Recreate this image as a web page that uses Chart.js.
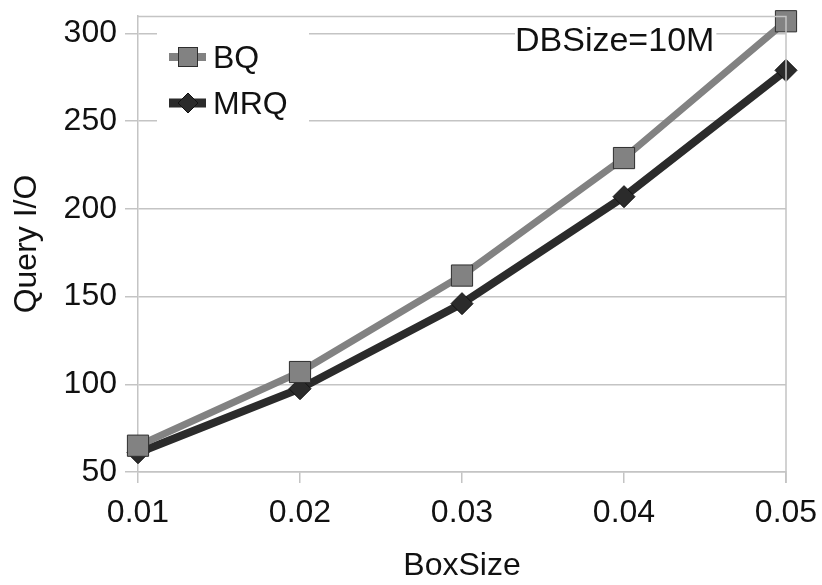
<!DOCTYPE html>
<html>
<head>
<meta charset="utf-8">
<script src="https://cdn.jsdelivr.net/npm/chart.js@4"></script>
<style>
  html, body { margin: 0; padding: 0; background: #fff; }
  #wrap { width: 822px; height: 585px; }
</style>
</head>
<body>
<div id="wrap"><canvas id="c" width="822" height="585"></canvas></div>
<script>
// ── Data ─────────────────────────────────────────────────────────────────────
const boxSizes = [0.01, 0.02, 0.03, 0.04, 0.05];
const bqIO     = [65, 107, 162, 229, 307];
const mrqIO    = [61, 97.5, 146, 207, 279];
const yTicks   = [50, 100, 150, 200, 250, 300];
const note     = 'DBSize=10M';

const FONT = '"Liberation Sans", Arial, sans-serif';
const GRID = '#c4c4c4';

// legend + note boxes drawn inside the plot, frame on top/right
const overlay = {
  id: 'overlay',
  afterDatasetsDraw(chart) {
    const ctx = chart.ctx;
    const a = chart.chartArea;
    ctx.save();
    // frame
    ctx.strokeStyle = GRID;
    ctx.lineWidth = 1.5;
    ctx.beginPath();
    ctx.moveTo(a.left, a.top + 0.5);
    ctx.lineTo(a.right, a.top + 0.5);
    ctx.lineTo(a.right, a.bottom + 11);
    ctx.stroke();

    // legend box
    ctx.fillStyle = '#fff';
    ctx.fillRect(157, 22, 152, 104);
    const ds = chart.data.datasets;
    const rows = [57, 103];
    ds.forEach((d, i) => {
      const y = rows[i];
      ctx.strokeStyle = d.borderColor;
      ctx.lineWidth = d.borderWidth + 1;
      ctx.beginPath();
      ctx.moveTo(169, y);
      ctx.lineTo(206, y);
      ctx.stroke();
      ctx.fillStyle = d.pointBackgroundColor;
      ctx.strokeStyle = d.pointBorderColor;
      ctx.lineWidth = 1;
      if (d.pointStyle === 'rect') {
        ctx.fillRect(178.5, y - 9.5, 19, 19);
        ctx.strokeRect(178.5, y - 9.5, 19, 19);
      } else {
        ctx.beginPath();
        ctx.moveTo(188, y - 10);
        ctx.lineTo(198, y);
        ctx.lineTo(188, y + 10);
        ctx.lineTo(178, y);
        ctx.closePath();
        ctx.fill();
        ctx.stroke();
      }
      ctx.fillStyle = '#111';
      ctx.font = '32px ' + FONT;
      ctx.textBaseline = 'middle';
      ctx.textAlign = 'left';
      ctx.fillText(d.label, 213, y + 2);
    });

    // DBSize note
    ctx.font = '34px ' + FONT;
    const w = ctx.measureText(note).width;
    ctx.fillStyle = '#fff';
    ctx.fillRect(515, 20, w + 2, 42);
    ctx.fillStyle = '#111';
    ctx.textBaseline = 'middle';
    ctx.fillText(note, 515, 42);
    ctx.restore();
  }
};

const noPad = s => { s.paddingTop = 0; s.paddingBottom = 0; s.paddingLeft = 0; s.paddingRight = 0; };

new Chart(document.getElementById('c'), {
  type: 'line',
  data: {
    labels: boxSizes,
    datasets: [
      {
        label: 'BQ',
        data: boxSizes.map((x, i) => ({ x, y: bqIO[i] })),
        borderColor: '#828282',
        borderWidth: 7,
        pointStyle: 'rect',
        pointRadius: 15,
        pointBackgroundColor: '#828282',
        pointBorderColor: '#2e2e2e',
        pointBorderWidth: 1,
        tension: 0
      },
      {
        label: 'MRQ',
        data: boxSizes.map((x, i) => ({ x, y: mrqIO[i] })),
        borderColor: '#2b2b2b',
        borderWidth: 8,
        pointStyle: 'rectRot',
        pointRadius: 11,
        pointBackgroundColor: '#2b2b2b',
        pointBorderColor: '#111',
        pointBorderWidth: 1,
        tension: 0
      }
    ]
  },
  options: {
    responsive: false,
    animation: false,
    clip: false,
    layout: { padding: { left: 0, top: 13, right: 36, bottom: 0 } },
    plugins: { legend: { display: false }, tooltip: { enabled: false } },
    scales: {
      x: {
        type: 'linear',
        min: 0.01,
        max: 0.05,
        afterBuildTicks: s => { s.ticks = boxSizes.map(v => ({ value: v })); },
        afterFit: s => { s.height = 113; noPad(s); },
        grid: { drawOnChartArea: false, color: GRID, lineWidth: 1.5, tickLength: 11 },
        border: { color: GRID, width: 1.5 },
        ticks: { color: '#111', font: { family: FONT, size: 32 }, padding: 11, maxRotation: 0,
                 callback: v => v.toFixed(2) },
        title: { display: true, text: 'BoxSize', color: '#111',
                 font: { family: FONT, size: 32 }, padding: { top: 0, bottom: 0 } }
      },
      y: {
        min: 50,
        max: 310,
        afterBuildTicks: s => { s.ticks = yTicks.map(v => ({ value: v })); },
        afterFit: s => { s.width = 138; noPad(s); },
        grid: { color: GRID, lineWidth: 1.5, tickLength: 13 },
        border: { color: GRID, width: 1.5 },
        ticks: { color: '#111', font: { family: FONT, size: 32 }, padding: 8 },
        title: { display: true, text: 'Query I/O', color: '#111',
                 font: { family: FONT, size: 32 }, padding: { top: 8, bottom: 0 } }
      }
    }
  },
  plugins: [overlay]
});
</script>
</body>
</html>
